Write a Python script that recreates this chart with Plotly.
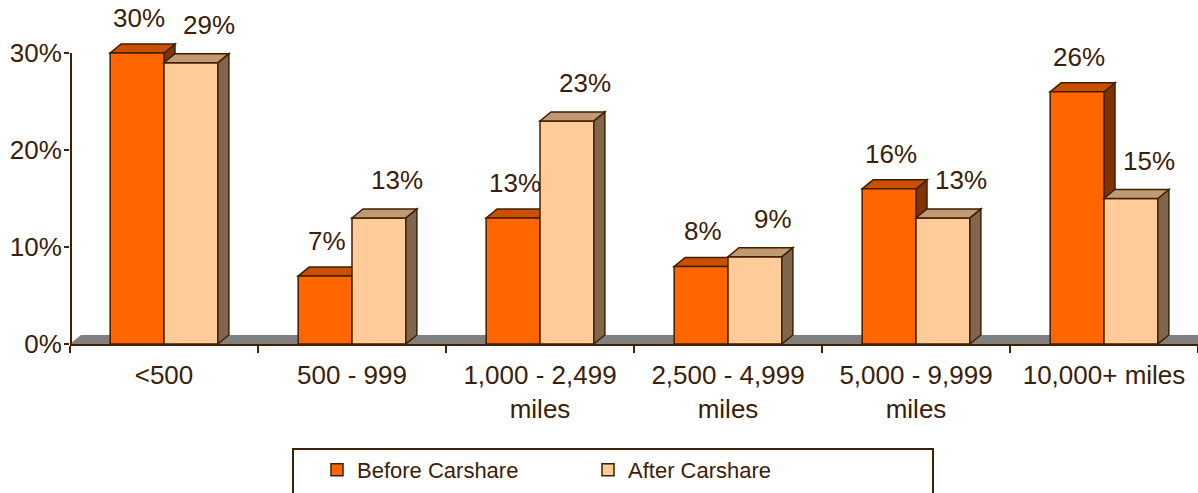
import plotly.graph_objects as go

# ---------------- data ----------------
categories = ["<500", "500 - 999", "1,000 - 2,499<br>miles", "2,500 - 4,999<br>miles",
              "5,000 - 9,999<br>miles", "10,000+ miles"]
before = [30, 7, 13, 8, 16, 26]
after = [29, 13, 23, 9, 13, 15]
series_names = ["Before Carshare", "After Carshare"]
y_ticks = [0, 10, 20, 30]

# ---------------- style ----------------
W, H = 1198, 493
ML, MR, MT, MB = 70, 0, 0, 149
FONT = "Liberation Sans, Arial, sans-serif"
TXT = "#3A2008"
OUTLINE = "#402000"
FRONT = ["#FF6600", "#FFCC99"]
TOP = ["#C85000", "#C09A72"]
SIDE = ["#803300", "#80664D"]
FLOOR = "#808080"

n = len(categories)
plot_w = W - ML - MR
plot_h = H - MT - MB
px_per_x = plot_w / n
px_per_pct = 9.7
y_max = plot_h / px_per_pct

BARGAP = 0.427
bw = (1 - BARGAP) / 2
DX = 11 / px_per_x
DY = 9 / px_per_pct
LABEL_XSHIFT = [2, 18]
LABEL_YSHIFT = [35, 38]

xs = list(range(n))
series = [before, after]

fig = go.Figure()
for k, (name, vals) in enumerate(zip(series_names, series)):
    fig.add_trace(go.Bar(
        x=xs, y=vals, name=name,
        marker=dict(color=FRONT[k], line=dict(color=OUTLINE, width=1.5)),
        hoverinfo="skip",
    ))

shapes = []
# floor
shapes.append(dict(type="path", xref="x", yref="y", layer="below",
                   path=f"M{-0.5},0 L{n-0.5},0 L{n-0.5+DX},{DY} L{-0.5+DX},{DY} Z",
                   fillcolor=FLOOR, line=dict(width=0)))


def faces(k, i, v):
    if k == 0:
        x0, x1 = i - bw, i
    else:
        x0, x1 = i, i + bw
    layer = "below" if k == 0 else "above"
    top = dict(type="path", xref="x", yref="y", layer=layer,
               path=f"M{x0},{v} L{x1},{v} L{x1+DX},{v+DY} L{x0+DX},{v+DY} Z",
               fillcolor=TOP[k], line=dict(color=OUTLINE, width=1.5))
    side = dict(type="path", xref="x", yref="y", layer=layer,
                path=f"M{x1},0 L{x1+DX},{DY} L{x1+DX},{v+DY} L{x1},{v} Z",
                fillcolor=SIDE[k], line=dict(color=OUTLINE, width=1.5))
    return [side, top]


for k, vals in enumerate(series):
    for i, v in enumerate(vals):
        shapes.extend(faces(k, i, v))

# y axis line (only up to the top tick)
shapes.append(dict(type="line", xref="x", yref="y", layer="above",
                   x0=-0.5 + 1 / px_per_x, x1=-0.5 + 1 / px_per_x, y0=0, y1=max(y_ticks),
                   line=dict(color=OUTLINE, width=2)))


def px2paper_x(p):
    return (p - ML) / plot_w


def px2paper_y(p):
    return (MT + plot_h - p) / plot_h


# legend frame
shapes.append(dict(type="rect", xref="paper", yref="paper",
                   x0=px2paper_x(293), x1=px2paper_x(933),
                   y0=px2paper_y(449), y1=px2paper_y(510),
                   line=dict(color=OUTLINE, width=2), fillcolor="rgba(0,0,0,0)"))

annotations = []
for k, vals in enumerate(series):
    for i, v in enumerate(vals):
        xc = i - bw / 2 if k == 0 else i + bw / 2
        annotations.append(dict(x=xc, y=v, xref="x", yref="y", text=f"{v}%",
                                showarrow=False, xanchor="center", yanchor="middle",
                                xshift=LABEL_XSHIFT[k], yshift=LABEL_YSHIFT[k],
                                font=dict(family=FONT, size=26, color=TXT)))

fig.update_layout(
    width=W, height=H,
    margin=dict(l=ML, r=MR, t=MT, b=MB, pad=0, autoexpand=False),
    paper_bgcolor="white", plot_bgcolor="white",
    barmode="group", bargap=BARGAP, bargroupgap=0,
    shapes=shapes, annotations=annotations,
    showlegend=True,
    legend=dict(orientation="h", x=px2paper_x(317), xanchor="left",
                y=px2paper_y(449), yanchor="top",
                entrywidth=226, entrywidthmode="pixels",
                borderwidth=0, bgcolor="rgba(0,0,0,0)",
                font=dict(family=FONT, size=22, color=TXT)),
    font=dict(family=FONT, color=TXT),
    hovermode=False,
)

fig.update_xaxes(
    range=[-0.5, n - 0.5], tickmode="array", tickvals=xs, ticktext=categories,
    ticks="", ticklabelstandoff=7, automargin=False,
    tickfont=dict(family=FONT, size=26, color=TXT),
    showline=True, linecolor=OUTLINE, linewidth=2,
    showgrid=False, zeroline=False,
    minor=dict(tickmode="array", tickvals=[i - 0.5 for i in range(n + 1)],
               ticks="outside", ticklen=7, tickwidth=2, tickcolor=OUTLINE, showgrid=False),
)
fig.update_yaxes(
    range=[0, y_max], tickmode="array", tickvals=y_ticks,
    ticktext=[f"{t}%" for t in y_ticks],
    ticks="outside", ticklen=5, tickwidth=2, tickcolor=OUTLINE, automargin=False,
    ticklabelstandoff=-3,
    tickfont=dict(family=FONT, size=26, color=TXT),
    showline=False, showgrid=False, zeroline=False,
)

fig.write_html("out.html", config={"displayModeBar": False, "staticPlot": True},
               post_script="document.body.style.margin='0';document.body.style.overflow='hidden';")
